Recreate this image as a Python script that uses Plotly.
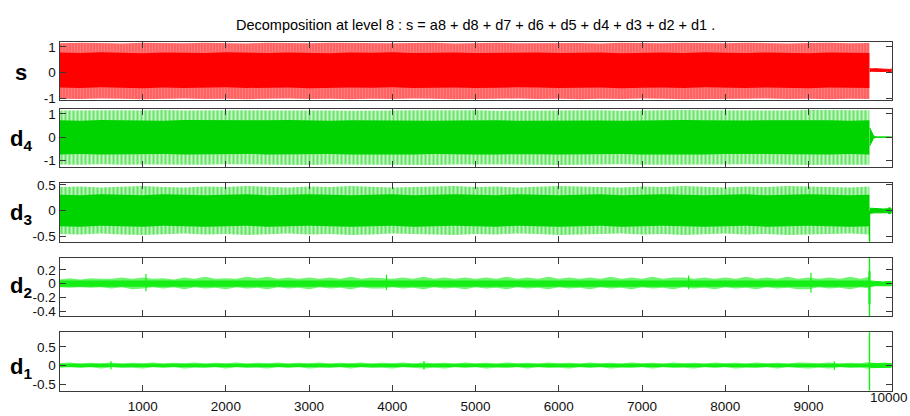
import plotly.graph_objects as go

# ---------------------------------------------------------------------------
# Peak envelopes of each signal, read every 250 samples up to the end of the
# oscillating part (sample ~9733); "core" = densely filled inner band.
# ---------------------------------------------------------------------------
env_x = [1] + list(range(250, 9501, 250)) + [9732]

s_hi = [1.14, 1.16, 1.15, 1.13, 1.16, 1.15, 1.14, 1.16, 1.15, 1.13,
        1.16, 1.15, 1.14, 1.16, 1.15, 1.16, 1.14, 1.15, 1.16, 1.13,
        1.15, 1.16, 1.14, 1.15, 1.16, 1.15, 1.13, 1.16, 1.15, 1.14,
        1.16, 1.15, 1.14, 1.16, 1.15, 1.13, 1.15, 1.16, 1.14, 1.15]
s_lo = [-1.02, -1.03, -1.01, -1.02, -1.04, -1.02, -1.01, -1.03, -1.02, -1.04,
        -1.02, -1.01, -1.03, -1.02, -1.04, -1.02, -1.03, -1.01, -1.02, -1.04,
        -1.03, -1.02, -1.01, -1.03, -1.02, -1.04, -1.02, -1.03, -1.01, -1.02,
        -1.04, -1.02, -1.03, -1.02, -1.01, -1.03, -1.02, -1.04, -1.02, -1.03]
s_core_hi = [0.78, 0.76, 0.79, 0.77, 0.75, 0.78, 0.77, 0.76, 0.79, 0.77,
             0.76, 0.78, 0.77, 0.75, 0.78, 0.77, 0.79, 0.76, 0.77, 0.78,
             0.76, 0.77, 0.79, 0.78, 0.76, 0.77, 0.78, 0.75, 0.77, 0.78,
             0.76, 0.79, 0.77, 0.76, 0.78, 0.77, 0.75, 0.78, 0.77, 0.76]
s_core_lo = [-0.58, -0.60, -0.57, -0.59, -0.61, -0.58, -0.60, -0.59, -0.57, -0.60,
             -0.59, -0.58, -0.61, -0.60, -0.58, -0.59, -0.57, -0.60, -0.59, -0.58,
             -0.60, -0.59, -0.57, -0.58, -0.60, -0.59, -0.58, -0.61, -0.59, -0.58,
             -0.60, -0.57, -0.59, -0.60, -0.58, -0.59, -0.61, -0.58, -0.59, -0.60]

d4_hi = [1.14, 1.15, 1.13, 1.15, 1.14, 1.16, 1.14, 1.15, 1.13, 1.15,
         1.14, 1.15, 1.16, 1.14, 1.13, 1.15, 1.14, 1.15, 1.16, 1.14,
         1.15, 1.13, 1.14, 1.15, 1.16, 1.14, 1.15, 1.13, 1.15, 1.14,
         1.16, 1.15, 1.14, 1.13, 1.15, 1.14, 1.16, 1.15, 1.14, 1.15]
d4_lo = [-1.17, -1.18, -1.16, -1.18, -1.17, -1.19, -1.17, -1.18, -1.16, -1.18,
         -1.17, -1.18, -1.19, -1.17, -1.16, -1.18, -1.17, -1.18, -1.19, -1.17,
         -1.18, -1.16, -1.17, -1.18, -1.19, -1.17, -1.18, -1.16, -1.18, -1.17,
         -1.19, -1.18, -1.17, -1.16, -1.18, -1.17, -1.19, -1.18, -1.17, -1.18]
d4_core_hi = [0.72, 0.70, 0.73, 0.71, 0.72, 0.70, 0.73, 0.72, 0.71, 0.70,
              0.72, 0.73, 0.71, 0.70, 0.72, 0.71, 0.73, 0.72, 0.70, 0.71,
              0.73, 0.72, 0.70, 0.71, 0.72, 0.73, 0.71, 0.70, 0.72, 0.71,
              0.73, 0.72, 0.70, 0.71, 0.72, 0.73, 0.71, 0.72, 0.70, 0.72]
d4_core_lo = [-0.74, -0.72, -0.75, -0.73, -0.74, -0.72, -0.75, -0.74, -0.73, -0.72,
              -0.74, -0.75, -0.73, -0.72, -0.74, -0.73, -0.75, -0.74, -0.72, -0.73,
              -0.75, -0.74, -0.72, -0.73, -0.74, -0.75, -0.73, -0.72, -0.74, -0.73,
              -0.75, -0.74, -0.72, -0.73, -0.74, -0.75, -0.73, -0.74, -0.72, -0.74]

d3_hi = [0.46, 0.47, 0.45, 0.47, 0.48, 0.46, 0.45, 0.47, 0.46, 0.48,
         0.46, 0.45, 0.47, 0.46, 0.48, 0.47, 0.45, 0.46, 0.47, 0.48,
         0.46, 0.47, 0.45, 0.46, 0.48, 0.47, 0.46, 0.45, 0.47, 0.46,
         0.48, 0.46, 0.45, 0.47, 0.46, 0.48, 0.47, 0.46, 0.45, 0.47]
d3_lo = [-0.45, -0.46, -0.44, -0.46, -0.47, -0.45, -0.44, -0.46, -0.45, -0.47,
         -0.45, -0.44, -0.46, -0.45, -0.47, -0.46, -0.44, -0.45, -0.46, -0.47,
         -0.45, -0.46, -0.44, -0.45, -0.47, -0.46, -0.45, -0.44, -0.46, -0.45,
         -0.47, -0.45, -0.44, -0.46, -0.45, -0.47, -0.46, -0.45, -0.44, -0.46]
d3_core_hi = [0.31, 0.30, 0.32, 0.31, 0.30, 0.32, 0.31, 0.30, 0.31, 0.32,
              0.30, 0.31, 0.32, 0.31, 0.30, 0.31, 0.32, 0.30, 0.31, 0.32,
              0.31, 0.30, 0.32, 0.31, 0.30, 0.31, 0.32, 0.30, 0.31, 0.32,
              0.31, 0.30, 0.31, 0.32, 0.30, 0.31, 0.32, 0.31, 0.30, 0.31]
d3_core_lo = [-0.30, -0.31, -0.29, -0.30, -0.31, -0.29, -0.30, -0.31, -0.30, -0.29,
              -0.31, -0.30, -0.29, -0.30, -0.31, -0.30, -0.29, -0.31, -0.30, -0.29,
              -0.30, -0.31, -0.29, -0.30, -0.31, -0.30, -0.29, -0.31, -0.30, -0.29,
              -0.30, -0.31, -0.30, -0.29, -0.31, -0.30, -0.29, -0.30, -0.31, -0.30]

# Noise-like details d2 and d1: peak envelope every 125 samples plus the
# half-width of their dense inner band.
fine_x = [1] + list(range(125, 9626, 125)) + [9730]

d2_hi = [0.06, 0.08, 0.06, 0.08, 0.07, 0.07, 0.09, 0.07, 0.09, 0.07,
         0.08, 0.06, 0.09, 0.07, 0.10, 0.07, 0.08, 0.07, 0.10, 0.08,
         0.10, 0.07, 0.09, 0.07, 0.09, 0.07, 0.09, 0.07, 0.10, 0.07,
         0.09, 0.08, 0.07, 0.09, 0.07, 0.10, 0.07, 0.09, 0.07, 0.09,
         0.07, 0.09, 0.07, 0.10, 0.07, 0.09, 0.07, 0.10, 0.07, 0.09,
         0.07, 0.09, 0.07, 0.10, 0.07, 0.09, 0.07, 0.10, 0.07, 0.09,
         0.09, 0.07, 0.09, 0.07, 0.09, 0.07, 0.10, 0.07, 0.09, 0.07,
         0.10, 0.07, 0.09, 0.07, 0.09, 0.07, 0.10, 0.07, 0.10]
d2_lo = [-0.05, -0.06, -0.05, -0.06, -0.05, -0.07, -0.05, -0.08, -0.07, -0.05,
         -0.07, -0.05, -0.08, -0.05, -0.07, -0.06, -0.08, -0.05, -0.07, -0.06,
         -0.08, -0.05, -0.07, -0.06, -0.08, -0.05, -0.07, -0.06, -0.08, -0.05,
         -0.07, -0.07, -0.05, -0.07, -0.06, -0.08, -0.05, -0.07, -0.06, -0.08,
         -0.05, -0.07, -0.06, -0.08, -0.05, -0.07, -0.06, -0.08, -0.05, -0.07,
         -0.06, -0.08, -0.05, -0.07, -0.06, -0.08, -0.05, -0.07, -0.06, -0.08,
         -0.05, -0.07, -0.06, -0.08, -0.05, -0.07, -0.06, -0.08, -0.05, -0.07,
         -0.06, -0.08, -0.08, -0.05, -0.07, -0.06, -0.08, -0.05, -0.07]
d2_core = 0.045
# isolated peaks standing out of the d2 noise
d2_peak_x = [1040, 3930, 7560, 9030]
d2_peak_hi = [0.14, 0.13, 0.12, 0.16]
d2_peak_lo = [-0.11, -0.09, -0.08, -0.13]

d1_hi = [0.06, 0.08, 0.05, 0.07, 0.06, 0.08, 0.05, 0.07, 0.06, 0.08,
         0.05, 0.07, 0.06, 0.08, 0.05, 0.07, 0.06, 0.08, 0.05, 0.07,
         0.06, 0.08, 0.05, 0.07, 0.06, 0.08, 0.05, 0.07, 0.06, 0.08,
         0.05, 0.07, 0.06, 0.08, 0.05, 0.08, 0.06, 0.07, 0.05, 0.08,
         0.06, 0.07, 0.05, 0.08, 0.06, 0.07, 0.05, 0.08, 0.06, 0.07,
         0.05, 0.08, 0.06, 0.07, 0.05, 0.08, 0.06, 0.07, 0.05, 0.08,
         0.06, 0.07, 0.05, 0.08, 0.06, 0.07, 0.05, 0.08, 0.06, 0.07,
         0.05, 0.08, 0.07, 0.06, 0.08, 0.05, 0.07, 0.06, 0.09]
d1_lo = [-0.06, -0.05, -0.07, -0.05, -0.08, -0.05, -0.07, -0.06, -0.08, -0.05,
         -0.07, -0.05, -0.08, -0.06, -0.07, -0.05, -0.08, -0.05, -0.07, -0.06,
         -0.08, -0.05, -0.07, -0.05, -0.08, -0.06, -0.07, -0.05, -0.08, -0.05,
         -0.07, -0.06, -0.08, -0.05, -0.07, -0.08, -0.06, -0.08, -0.05, -0.07,
         -0.05, -0.08, -0.06, -0.07, -0.05, -0.08, -0.05, -0.07, -0.06, -0.08,
         -0.05, -0.07, -0.05, -0.08, -0.06, -0.07, -0.05, -0.08, -0.05, -0.07,
         -0.06, -0.08, -0.05, -0.07, -0.05, -0.08, -0.06, -0.07, -0.05, -0.08,
         -0.05, -0.07, -0.08, -0.06, -0.08, -0.05, -0.07, -0.06, -0.09]
d1_core = 0.045
d1_peak_x = [620, 4380, 9310]
d1_peak_hi = [0.11, 0.12, 0.11]
d1_peak_lo = [-0.10, -0.11, -0.12]

# Quiet segment after the oscillation stops.
s_tail_x = [9736, 9760, 9800, 9850, 9900, 9950, 9975, 10000]
s_tail_hi = [0.16, 0.14, 0.15, 0.14, 0.15, 0.14, 0.12, 0.14]
s_tail_lo = [0.04, 0.05, 0.04, 0.05, 0.04, 0.05, 0.01, 0.04]

d4_tail_x = [9736, 9750, 9765, 9780, 9800, 9830, 10000]
d4_tail_hi = [0.40, 0.30, 0.18, 0.07, 0.02, 0.01, 0.01]
d4_tail_lo = [-0.38, -0.28, -0.16, -0.06, -0.02, -0.01, -0.01]

d3_tail_x = [9736, 9800, 9850, 9900, 9950, 9970, 9990, 10000]
d3_tail_hi = [0.05, 0.04, 0.04, 0.035, 0.04, 0.06, 0.05, 0.04]
d3_tail_lo = [-0.05, -0.04, -0.04, -0.035, -0.04, -0.06, -0.05, -0.04]

d2_tail_x = [9736, 9800, 9850, 9900, 9950, 10000]
d2_tail_hi = [0.04, 0.03, 0.03, 0.025, 0.03, 0.03]
d2_tail_lo = [-0.04, -0.03, -0.03, -0.025, -0.03, -0.03]

d1_tail_x = [9736, 9800, 9850, 9900, 9950, 10000]
d1_tail_hi = [0.06, 0.05, 0.05, 0.06, 0.05, 0.05]
d1_tail_lo = [-0.06, -0.05, -0.05, -0.06, -0.05, -0.05]

# Transient at the switch-off instant.
burst_x = 9733
d3_burst = [0.0, -0.70]
d2_burst_thin = [0.60, -0.60]
d2_burst = [0.18, -0.30]
d1_burst = [1.00, -1.00]

# Axis settings per panel
panel_labels = ["<b>s</b>", "<b>d<sub>4</sub></b>", "<b>d<sub>3</sub></b>",
                "<b>d<sub>2</sub></b>", "<b>d<sub>1</sub></b>"]
y_ranges = [[-1.064, 1.2], [-1.29, 1.22], [-0.60, 0.53], [-0.47, 0.375], [-0.675, 0.89]]
y_ticks = [[-1, 0, 1], [-1, 0, 1], [-0.5, 0, 0.5], [-0.4, -0.2, 0, 0.2], [-0.5, 0, 0.5]]
y_ticktext = [["-1", "0", "1"], ["-1", "0", "1"], ["-0.5", "0", "0.5"],
              ["-0.4", "-0.2", "0", "0.2"], ["-0.5", "0", "0.5"]]
x_ticks = [1000, 2000, 3000, 4000, 5000, 6000, 7000, 8000, 9000, 10000]
x_ticktext = ["1000", "2000", "3000", "4000", "5000", "6000", "7000", "8000", "9000", "10000"]
title_text = "Decomposition at level 8 : s = a8 + d8 + d7 + d6 + d5 + d4 + d3 + d2 + d1 ."

RED = "#ff0000"
GREEN = "#00d400"
LIGHT_GREEN = "#14ee14"
FONT = "Liberation Sans, Arial, sans-serif"

W, H = 910, 416
plot_left, plot_right = 59.5, 891.7
panel_px = [(36.7, 96.7), (105.7, 166.0), (182.7, 242.7), (259.3, 319.3), (336.0, 396.0)]

fig = go.Figure()


def axis_ids(ax):
    n = "" if ax == 1 else str(ax)
    return "x" + n, "y" + n


def band(xs, hi, lo, ax, color, pattern=None, width=0.0):
    xa, ya = axis_ids(ax)
    trace = go.Scatter(
        x=list(xs) + list(xs)[::-1],
        y=list(hi) + list(lo)[::-1],
        xaxis=xa, yaxis=ya,
        mode="lines", fill="toself", fillcolor=color,
        line=dict(color=color, width=width),
        hoverinfo="skip", showlegend=False,
    )
    if pattern is not None:
        trace.fillpattern = pattern
    fig.add_trace(trace)


def segments(xs, his, los, ax, color, width):
    xa, ya = axis_ids(ax)
    px, py = [], []
    for x, h, l in zip(xs, his, los):
        px += [x, x, None]
        py += [h, l, None]
    fig.add_trace(go.Scatter(
        x=px, y=py, xaxis=xa, yaxis=ya,
        mode="lines", line=dict(color=color, width=width),
        hoverinfo="skip", showlegend=False,
    ))


# s
band(env_x, s_hi, s_lo, 1, "rgba(255,0,0,0.5)",
     pattern=dict(shape="|", size=3, solidity=0.65, fgcolor=RED, bgcolor="rgba(255,40,40,0.45)"))
band(env_x, s_core_hi, s_core_lo, 1, RED)
band(s_tail_x, s_tail_hi, s_tail_lo, 1, RED, width=1)

# d4
band(env_x, d4_hi, d4_lo, 2, "rgba(0,212,0,0.25)",
     pattern=dict(shape="|", size=4, solidity=0.55, fgcolor=GREEN, bgcolor="rgba(0,212,0,0.18)"))
band(env_x, d4_core_hi, d4_core_lo, 2, GREEN)
band(d4_tail_x, d4_tail_hi, d4_tail_lo, 2, GREEN, width=1)

# d3
band(env_x, d3_hi, d3_lo, 3, "rgba(0,212,0,0.25)",
     pattern=dict(shape="|", size=4, solidity=0.55, fgcolor=GREEN, bgcolor="rgba(0,212,0,0.22)"))
band(env_x, d3_core_hi, d3_core_lo, 3, GREEN)
band(d3_tail_x, d3_tail_hi, d3_tail_lo, 3, GREEN, width=1)
segments([burst_x], [d3_burst[0]], [d3_burst[1]], 3, GREEN, 1.5)

# d2
band(fine_x, d2_hi, d2_lo, 4, "rgba(20,238,20,0.5)",
     pattern=dict(shape="|", size=2, solidity=0.6, fgcolor=LIGHT_GREEN, bgcolor="rgba(20,238,20,0.45)"))
band([fine_x[0], fine_x[-1]], [d2_core, d2_core], [-d2_core, -d2_core], 4, LIGHT_GREEN)
band(d2_tail_x, d2_tail_hi, d2_tail_lo, 4, LIGHT_GREEN, width=1)
segments(d2_peak_x, d2_peak_hi, d2_peak_lo, 4, LIGHT_GREEN, 1.2)
segments([burst_x], [d2_burst_thin[0]], [d2_burst_thin[1]], 4, LIGHT_GREEN, 1.4)
segments([burst_x], [d2_burst[0]], [d2_burst[1]], 4, LIGHT_GREEN, 2.2)

# d1
band(fine_x, d1_hi, d1_lo, 5, "rgba(20,238,20,0.5)",
     pattern=dict(shape="|", size=2, solidity=0.6, fgcolor=LIGHT_GREEN, bgcolor="rgba(20,238,20,0.45)"))
band([fine_x[0], fine_x[-1]], [d1_core, d1_core], [-d1_core, -d1_core], 5, LIGHT_GREEN)
band(d1_tail_x, d1_tail_hi, d1_tail_lo, 5, LIGHT_GREEN, width=1)
segments(d1_peak_x, d1_peak_hi, d1_peak_lo, 5, LIGHT_GREEN, 1.2)
segments([burst_x], [d1_burst[0]], [d1_burst[1]], 5, LIGHT_GREEN, 1.4)

FRAME = "#3a3a3a"
tick_font = dict(family=FONT, size=13.5, color="#111111")
layout = dict(
    width=W, height=H,
    margin=dict(l=0, r=0, t=0, b=0),
    paper_bgcolor="white", plot_bgcolor="white",
    showlegend=False,
    font=tick_font,
)
annotations = [dict(
    text=title_text, x=(plot_left + plot_right) / 2 / W, y=1 - 20 / H,
    xref="paper", yref="paper", xanchor="center", yanchor="middle",
    showarrow=False, font=dict(family=FONT, size=14.5, color="#000"),
)]

# the last x label sits on the right frame and would spill past the page edge,
# so it is placed right-aligned inside the page instead of centred on its tick
axis_x_text = x_ticktext[:-1] + [""]
annotations.append(dict(
    text=x_ticktext[-1], x=1.0, y=1 - 403.5 / H,
    xref="paper", yref="paper", xanchor="right", yanchor="middle",
    showarrow=False, font=tick_font,
))

for i in range(5):
    n = "" if i == 0 else str(i + 1)
    top, bot = panel_px[i]
    layout["xaxis" + n] = dict(
        domain=[plot_left / W, plot_right / W], range=[1, 10000],
        anchor="y" + n, showline=True, mirror="ticks", linecolor=FRAME, linewidth=1,
        ticks="inside", ticklen=6, tickwidth=1, tickcolor=FRAME,
        tickvals=x_ticks, ticktext=axis_x_text, showticklabels=(i == 4),
        showgrid=False, zeroline=False, fixedrange=True, ticklabelstandoff=3,
    )
    layout["yaxis" + n] = dict(
        domain=[1 - bot / H, 1 - top / H], range=y_ranges[i],
        anchor="x" + n, showline=True, mirror="ticks", linecolor=FRAME, linewidth=1,
        ticks="inside", ticklen=6, tickwidth=1, tickcolor=FRAME,
        tickvals=y_ticks[i], ticktext=y_ticktext[i],
        showgrid=False, zeroline=False, fixedrange=True, ticklabelstandoff=0,
    )
    zero_px = top + (bot - top) * y_ranges[i][1] / (y_ranges[i][1] - y_ranges[i][0])
    is_s = i == 0
    annotations.append(dict(
        text=panel_labels[i], x=(13 if is_s else 8) / W, y=1 - (zero_px + (0 if is_s else 3)) / H,
        xref="paper", yref="paper", xanchor="left", yanchor="middle", showarrow=False,
        font=dict(family=FONT, size=22, color="#000"),
    ))

layout["annotations"] = annotations
fig.update_layout(**layout)
fig.write_html("out.html")
